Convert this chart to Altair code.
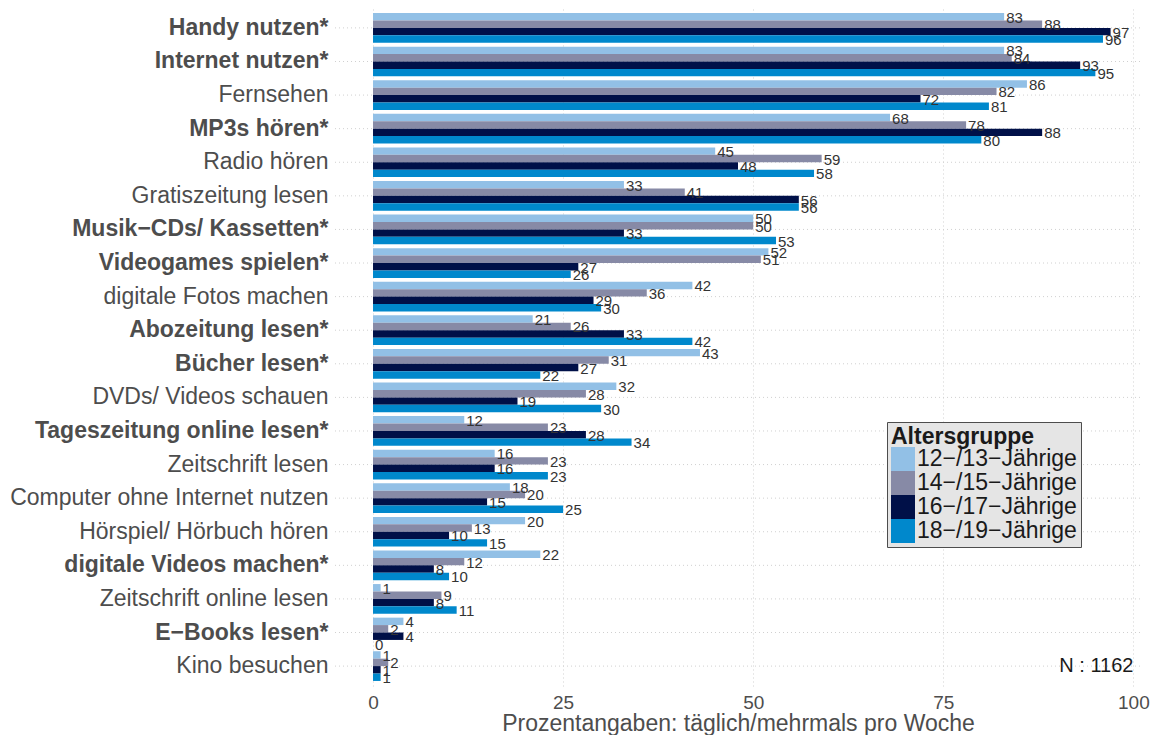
import altair as alt
import pandas as pd

kategorien = [
    "Handy nutzen*", "Internet nutzen*", "Fernsehen", "MP3s hören*", "Radio hören",
    "Gratiszeitung lesen", "Musik−CDs/ Kassetten*", "Videogames spielen*",
    "digitale Fotos machen", "Abozeitung lesen*", "Bücher lesen*", "DVDs/ Videos schauen",
    "Tageszeitung online lesen*", "Zeitschrift lesen", "Computer ohne Internet nutzen",
    "Hörspiel/ Hörbuch hören", "digitale Videos machen*", "Zeitschrift online lesen",
    "E−Books lesen*", "Kino besuchen",
]
gruppen = ["12−/13−Jährige", "14−/15−Jährige", "16−/17−Jährige", "18−/19−Jährige"]
farben = ["#92C0E6", "#878AA6", "#001048", "#0088CC"]

w12_13 = [83, 83, 86, 68, 45, 33, 50, 52, 42, 21, 43, 32, 12, 16, 18, 20, 22, 1, 4, 1]
w14_15 = [88, 84, 82, 78, 59, 41, 50, 51, 36, 26, 31, 28, 23, 23, 20, 13, 12, 9, 2, 2]
w16_17 = [97, 93, 72, 88, 48, 56, 33, 27, 29, 33, 27, 19, 28, 16, 15, 10, 8, 8, 4, 1]
w18_19 = [96, 95, 81, 80, 58, 56, 53, 26, 30, 42, 22, 30, 34, 23, 25, 15, 10, 11, 0, 1]

n_text = "N : 1162"
x_titel = "Prozentangaben: täglich/mehrmals pro Woche"
x_ticks = [0, 25, 50, 75, 100]

rows = []
for i, k in enumerate(kategorien):
    for g, vals in zip(gruppen, [w12_13, w14_15, w16_17, w18_19]):
        rows.append({"Kategorie": k, "Gruppe": g, "Wert": vals[i]})
df = pd.DataFrame(rows)

FONT = "Liberation Sans"
W, H = 806, 678

y_enc = alt.Y(
    "Kategorie:N", sort=kategorien, title=None,
    scale=alt.Scale(paddingInner=0.115, paddingOuter=0.15),
    axis=alt.Axis(
        labelFontSize=23, labelColor="#4D4D4D", labelFont=FONT, labelLimit=400,
        labelFontWeight=alt.condition("indexof(datum.value, '*') >= 0", alt.value("bold"), alt.value("normal")),
        ticks=False, domain=False, grid=False, labelPadding=7,
        minExtent=327, maxExtent=327,
    ),
)
yoff = alt.YOffset("Gruppe:N", sort=gruppen, scale=alt.Scale(paddingInner=0, paddingOuter=0))
x_scale = alt.Scale(domain=[-5, 101], nice=False, zero=False)
x_axis = alt.Axis(
    values=x_ticks, ticks=False, domain=False, grid=True, gridColor="#D0D0D0",
    gridDash=[1, 3], gridWidth=1, labelFontSize=19, labelColor="#4D4D4D", labelFont=FONT,
    labelPadding=7, titleFontSize=23, titleColor="#4D4D4D", titleFont=FONT,
    titleFontWeight="normal", titlePadding=0,
)

grid = alt.Chart(pd.DataFrame({"Kategorie": kategorien})).mark_rule(
    color="#D0D0D0", strokeDash=[1, 3], strokeWidth=1
).encode(y=y_enc, x=alt.value(0), x2=alt.value(W))

bars = alt.Chart(df).mark_bar().encode(
    x=alt.X("Wert:Q", scale=x_scale, axis=x_axis, title=x_titel),
    y=y_enc,
    yOffset=yoff,
    color=alt.Color(
        "Gruppe:N", sort=gruppen, scale=alt.Scale(domain=gruppen, range=farben),
        legend=alt.Legend(
            orient="none", legendX=552, legendY=414, title="Altersgruppe",
            titleFontSize=23, titleFontWeight="bold", titleColor="#1A1A1A", titleFont=FONT,
            labelFontSize=23, labelColor="#1A1A1A", labelFont=FONT,
            symbolType="square", symbolSize=576, symbolStrokeWidth=0,
            symbolOpacity=1,
            fillColor="#E5E5E5", strokeColor="#4D4D4D", padding=4,
            rowPadding=-11, labelOffset=2, titlePadding=-2,
        ),
    ),
)

labels = alt.Chart(df).mark_text(
    align="left", baseline="middle", dx=2, dy=1, fontSize=15, color="#333333", font=FONT
).encode(
    x=alt.X("Wert:Q", scale=x_scale),
    y=y_enc,
    yOffset=yoff,
    text=alt.Text("Wert:Q", format="d"),
)

n_df = pd.DataFrame({"Kategorie": [kategorien[-1]], "Wert": [100], "Text": [n_text]})
n_label = alt.Chart(n_df).mark_text(
    align="right", baseline="middle", fontSize=20, color="#1A1A1A", font=FONT
).encode(x=alt.X("Wert:Q", scale=x_scale), y=y_enc, text="Text:N")

chart = alt.layer(grid, bars, labels, n_label).properties(
    width=W, height=H
).configure(padding=0).configure_view(stroke=None)

chart.save("out.html", embed_options={"renderer": "svg", "actions": False})
